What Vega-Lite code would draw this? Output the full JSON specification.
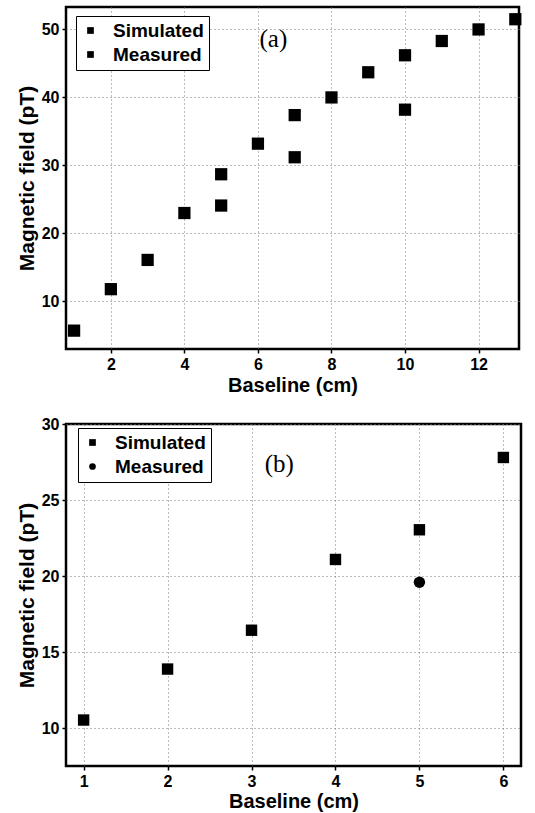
{
  "$schema": "https://vega.github.io/schema/vega-lite/v6.json",
  "padding": {"left": 14, "top": 5, "right": 15, "bottom": 2},
  "background": "white",
  "config": {
    "font": "Liberation Sans",
    "view": {"stroke": "black", "strokeWidth": 2.5},
    "axis": {
      "labelFont": "Liberation Sans", "labelFontWeight": "bold", "labelFontSize": 16, "labelColor": "black",
      "titleFont": "Liberation Sans", "titleFontWeight": "bold", "titleFontSize": 20, "titleColor": "black",
      "domain": false, "tickColor": "black", "tickSize": 4, "tickWidth": 1.5, "labelPadding": 3,
      "grid": true, "gridColor": "#777", "gridDash": [1, 3], "gridWidth": 1
    },
    "legend": {
      "labelFont": "Liberation Sans", "labelFontWeight": "bold", "labelFontSize": 19, "labelColor": "black",
      "strokeColor": "black", "fillColor": "white", "padding": 5, "symbolSize": 45, "rowPadding": 4,
      "labelOffset": 13
    }
  },
  "spacing": 17,
  "vconcat": [
    {
      "width": 453, "height": 342,
      "layer": [
        {
          "data": {"values": [
            {"baseline": 1, "field": 5.7, "series": "Simulated"},
            {"baseline": 2, "field": 11.8, "series": "Simulated"},
            {"baseline": 3, "field": 16.1, "series": "Simulated"},
            {"baseline": 4, "field": 23.0, "series": "Simulated"},
            {"baseline": 5, "field": 28.7, "series": "Simulated"},
            {"baseline": 6, "field": 33.2, "series": "Simulated"},
            {"baseline": 7, "field": 37.4, "series": "Simulated"},
            {"baseline": 8, "field": 40.0, "series": "Simulated"},
            {"baseline": 9, "field": 43.7, "series": "Simulated"},
            {"baseline": 10, "field": 46.2, "series": "Simulated"},
            {"baseline": 11, "field": 48.3, "series": "Simulated"},
            {"baseline": 12, "field": 50.0, "series": "Simulated"},
            {"baseline": 13, "field": 51.5, "series": "Simulated"},
            {"baseline": 5, "field": 24.1, "series": "Measured"},
            {"baseline": 7, "field": 31.2, "series": "Measured"},
            {"baseline": 10, "field": 38.2, "series": "Measured"}
          ]},
          "mark": {"type": "point", "filled": true, "opacity": 1, "color": "black", "size": 150},
          "encoding": {
            "x": {"field": "baseline", "type": "quantitative", "title": "Baseline (cm)",
                  "scale": {"domain": [0.78, 13.1], "nice": false, "zero": false},
                  "axis": {"values": [2, 4, 6, 8, 10, 12], "titlePadding": 3}},
            "y": {"field": "field", "type": "quantitative", "title": "Magnetic field (pT)",
                  "scale": {"domain": [3, 53.3], "nice": false, "zero": false},
                  "axis": {"values": [10, 20, 30, 40, 50], "titlePadding": 4, "titleFontSize": 21}},
            "shape": {"field": "series", "type": "nominal",
                      "scale": {"domain": ["Simulated", "Measured"], "range": ["square", "square"]},
                      "legend": {"title": null, "orient": "none", "legendX": 10, "legendY": 9}}
          }
        },
        {
          "data": {"values": [{"baseline": 6.42, "field": 48.6, "label": "(a)"}]},
          "mark": {"type": "text", "font": "Liberation Serif", "fontSize": 25, "color": "black"},
          "encoding": {
            "x": {"field": "baseline", "type": "quantitative"},
            "y": {"field": "field", "type": "quantitative"},
            "text": {"field": "label"}
          }
        }
      ],
      "resolve": {"scale": {"shape": "independent"}}
    },
    {
      "width": 455, "height": 342,
      "layer": [
        {
          "data": {"values": [
            {"baseline": 1, "field": 10.55, "series": "Simulated"},
            {"baseline": 2, "field": 13.9, "series": "Simulated"},
            {"baseline": 3, "field": 16.45, "series": "Simulated"},
            {"baseline": 4, "field": 21.1, "series": "Simulated"},
            {"baseline": 5, "field": 23.05, "series": "Simulated"},
            {"baseline": 6, "field": 27.8, "series": "Simulated"},
            {"baseline": 5, "field": 19.6, "series": "Measured"}
          ]},
          "mark": {"type": "point", "filled": true, "opacity": 1, "color": "black", "size": 130},
          "encoding": {
            "x": {"field": "baseline", "type": "quantitative", "title": "Baseline (cm)",
                  "scale": {"domain": [0.79, 6.21], "nice": false, "zero": false},
                  "axis": {"values": [1, 2, 3, 4, 5, 6], "format": "d", "titlePadding": 2}},
            "y": {"field": "field", "type": "quantitative", "title": "Magnetic field (pT)",
                  "scale": {"domain": [7.53, 30], "nice": false, "zero": false},
                  "axis": {"values": [10, 15, 20, 25, 30], "titlePadding": 4, "titleFontSize": 21}},
            "shape": {"field": "series", "type": "nominal",
                      "scale": {"domain": ["Simulated", "Measured"], "range": ["square", "circle"]},
                      "legend": {"title": null, "orient": "none", "legendX": 12, "legendY": 4}}
          }
        },
        {
          "data": {"values": [{"baseline": 3.33, "field": 27.36, "label": "(b)"}]},
          "mark": {"type": "text", "font": "Liberation Serif", "fontSize": 25, "color": "black"},
          "encoding": {
            "x": {"field": "baseline", "type": "quantitative"},
            "y": {"field": "field", "type": "quantitative"},
            "text": {"field": "label"}
          }
        }
      ]
    }
  ],
  "resolve": {"scale": {"shape": "independent"}, "legend": {"shape": "independent"}}
}
